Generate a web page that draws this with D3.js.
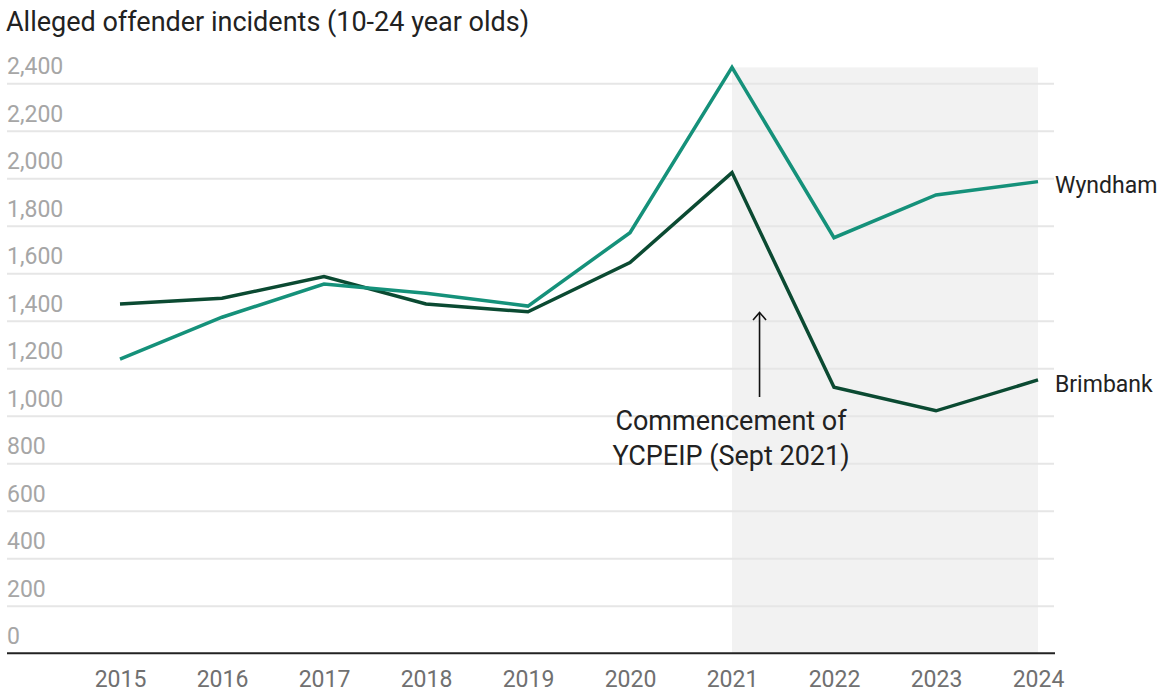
<!DOCTYPE html>
<html>
<head>
<meta charset="utf-8">
<script src="https://cdn.jsdelivr.net/npm/d3@7"></script>
<style>
  html, body { margin: 0; padding: 0; background: #fff; }
  svg { display: block; font-family: Roboto, "Noto Sans", sans-serif; }
</style>
</head>
<body>
<svg id="chart" width="1158" height="692"></svg>
<script>
// Alleged offender incidents, 10-24 year olds, by local government area
const years = [2015, 2016, 2017, 2018, 2019, 2020, 2021, 2022, 2023, 2024];
const wyndham = [1239, 1415, 1555, 1516, 1462, 1771, 2467, 1750, 1930, 1986];
const brimbank = [1471, 1495, 1586, 1471, 1438, 1645, 2024, 1120, 1021, 1151];
const yTicks = [0, 200, 400, 600, 800, 1000, 1200, 1400, 1600, 1800, 2000, 2200, 2400];
const programStart = 2021;      // shaded period begins
const programArrowAt = 2021.27; // Sept 2021 marker

const title = "Alleged offender incidents (10-24 year olds)";
const noteLines = ["Commencement of", "YCPEIP (Sept 2021)"];

const svg = d3.select("#chart");

const x = d3.scaleLinear().domain([2015, 2024]).range([120, 1038]);
const y = d3.scaleLinear().domain([0, 2400]).range([653.3, 83.3]);
const gridLeft = 7, gridRight = 1054;

// Title
svg.append("text")
  .attr("x", 6).attr("y", 31)
  .attr("fill", "#222")
  .attr("font-size", 27)
  .text(title);

// Shaded period after the program started
const peak = d3.max(wyndham.concat(brimbank));
svg.append("rect")
  .attr("x", x(programStart))
  .attr("y", y(peak))
  .attr("width", x(years[years.length - 1]) - x(programStart))
  .attr("height", y(0) - y(peak))
  .attr("fill", "#f2f2f2");

// Horizontal gridlines and value labels
const yAxis = d3.axisLeft(y).tickValues(yTicks).tickSize(0).tickFormat(d3.format(","));
const gy = svg.append("g").call(yAxis);
gy.select(".domain").remove();
gy.selectAll(".tick line")
  .attr("x1", gridLeft).attr("x2", gridRight)
  .attr("stroke", "#e6e6e6").attr("stroke-width", 2)
  .filter(d => d === 0).remove();
gy.selectAll(".tick text")
  .attr("x", gridLeft).attr("dy", -9.5)
  .attr("text-anchor", "start")
  .attr("fill", "#a6a6a6")
  .attr("font-size", 23)
  .attr("font-family", "Roboto, sans-serif");

// Year axis
const xAxis = d3.axisBottom(x).tickValues(years).tickSize(0).tickFormat(d3.format("d"));
const gx = svg.append("g").attr("transform", `translate(0,${y(0)})`).call(xAxis);
gx.select(".domain").remove();
gx.selectAll(".tick text")
  .attr("y", 34).attr("dy", 0)
  .attr("fill", "#707070")
  .attr("font-size", 23)
  .attr("font-family", "Roboto, sans-serif");
svg.append("line")
  .attr("x1", gridLeft).attr("x2", gridRight + 1)
  .attr("y1", y(0)).attr("y2", y(0))
  .attr("stroke", "#222").attr("stroke-width", 2);

// Series lines
const line = d3.line().x((d, i) => x(years[i])).y(d => y(d));
const series = [
  { name: "Wyndham", values: wyndham, color: "#15917a", labelDy: 11 },
  { name: "Brimbank", values: brimbank, color: "#0b4a32", labelDy: 12 }
];
series.slice().reverse().forEach(s => {
  svg.append("path")
    .datum(s.values)
    .attr("d", line)
    .attr("fill", "none")
    .attr("stroke", s.color)
    .attr("stroke-width", 3.5)
    .attr("stroke-linejoin", "miter")
    .attr("stroke-linecap", "butt");
});
series.forEach(s => {
  const last = s.values[s.values.length - 1];
  svg.append("text")
    .attr("x", x(years[years.length - 1]) + 17)
    .attr("y", y(last) + s.labelDy)
    .attr("fill", "#222")
    .attr("font-size", 23)
    .text(s.name);
});

// Program start annotation
const ax = x(programArrowAt);
svg.append("line")
  .attr("x1", ax).attr("x2", ax)
  .attr("y1", 397).attr("y2", 313)
  .attr("stroke", "#111").attr("stroke-width", 1.6);
svg.append("path")
  .attr("d", `M${ax - 6.5},${320} L${ax},${312.5} L${ax + 6.5},${320}`)
  .attr("fill", "none")
  .attr("stroke", "#111").attr("stroke-width", 1.6);
const note = svg.append("text")
  .attr("x", x(programStart) - 1)
  .attr("text-anchor", "middle")
  .attr("fill", "#222")
  .attr("font-size", 27);
noteLines.forEach((t, i) => {
  note.append("tspan").attr("x", x(programStart) - 1).attr("y", 430 + i * 35).text(t);
});
</script>
</body>
</html>
